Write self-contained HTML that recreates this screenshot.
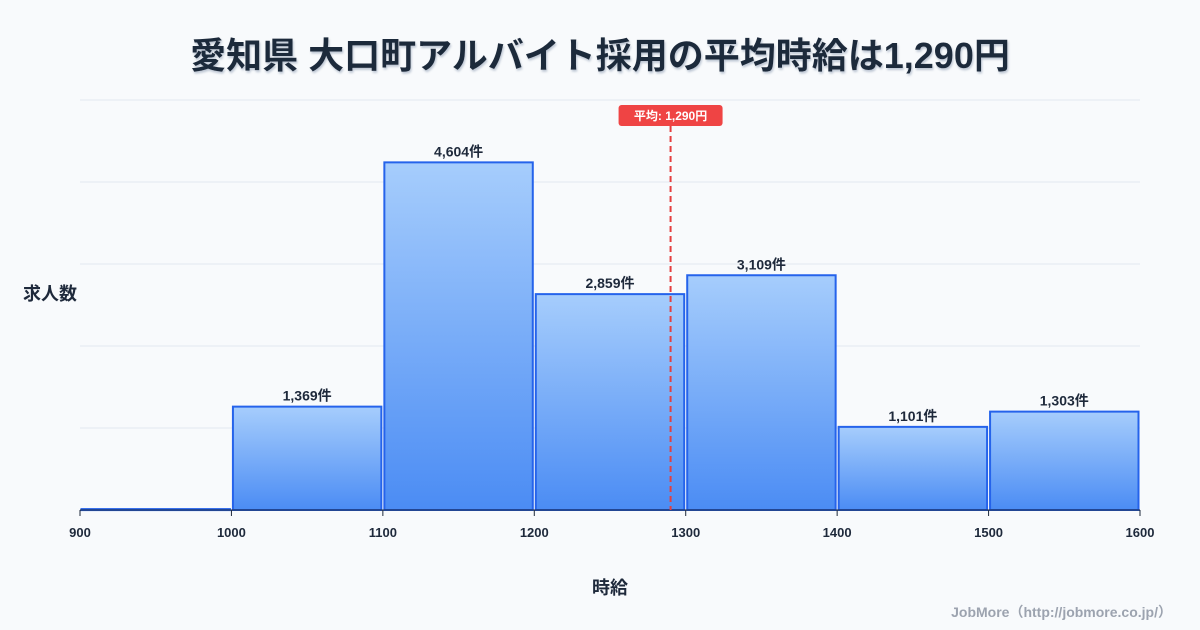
<!DOCTYPE html>
<html><head><meta charset="utf-8"><style>
body{margin:0;background:#f8fafc;}
svg{display:block;font-family:"Liberation Sans","Noto Sans CJK JP",sans-serif;}
</style></head><body>
<svg id="c" width="1200" height="630" viewBox="0 0 1200 630">
<defs><linearGradient id="g" x1="0" y1="0" x2="0" y2="1"><stop offset="0" stop-color="#a6cdfc"/><stop offset="1" stop-color="#4b8cf4"/></linearGradient>
<filter id="sh"><feDropShadow dx="1" dy="2" stdDeviation="1" flood-color="#94a3b8" flood-opacity="0.6"/></filter></defs>
<text x="600" y="68" text-anchor="middle" font-size="36" font-weight="bold" fill="#1e293b" filter="url(#sh)">愛知県 大口町アルバイト採用の平均時給は1,290円</text>
<g id="grid"></g><g id="bars"></g><g id="xt"></g>
<text x="50" y="300" text-anchor="middle" font-size="18" font-weight="bold" fill="#1e293b">求人数</text>
<text x="610" y="594" text-anchor="middle" font-size="18" font-weight="bold" fill="#1e293b">時給</text>
<text x="1172" y="617" text-anchor="end" font-size="14" font-weight="bold" fill="#9ca3af">JobMore（http://jobmore.co.jp/）</text>
<g id="avg"></g>
</svg>
<script>
const binStarts=[900,1000,1100,1200,1300,1400,1500];
const counts=[12,1369,4604,2859,3109,1101,1303];
const countLabels=["","1,369件","4,604件","2,859件","3,109件","1,101件","1,303件"];
const xTicks=[900,1000,1100,1200,1300,1400,1500,1600];
const avgValue=1290;
const avgLabel="平均: 1,290円";
const NS="http://www.w3.org/2000/svg";
const X0=80,X1=1140,Y0=510,Y1=100,xMin=900,xMax=1600,yMax=5430;
const x=v=>X0+(v-xMin)/(xMax-xMin)*(X1-X0);
const y=v=>Y0-v/yMax*(Y0-Y1);
function mk(t,a,p){const e=document.createElementNS(NS,t);for(const k in a)e.setAttribute(k,a[k]);p.appendChild(e);return e;}
const grid=document.getElementById('grid');
for(let i=0;i<=5;i++){const gy=Y0-i*(Y0-Y1)/5;const l=mk('line',{x1:X0,x2:X1,y1:gy,y2:gy,stroke:'#e2e8f0','stroke-width':1},grid);

}
const bars=document.getElementById('bars');
binStarts.forEach((b,i)=>{const xa=x(b)+1.5,xb=x(b+100)-1.5,yt=y(counts[i]);
const r=mk('rect',{x:xa,y:yt,width:xb-xa,height:Math.max(Y0-yt,1),fill:'url(#g)',stroke:'#2563eb','stroke-width':2},bars);


if(countLabels[i]){const t=mk('text',{x:(xa+xb)/2,y:yt-6,'text-anchor':'middle','font-size':14,'font-weight':'bold',fill:'#1e293b'},bars);t.textContent=countLabels[i];

}
});
const xt=document.getElementById('xt');
const ax=mk('line',{x1:X0,x2:X1,y1:Y0,y2:Y0,stroke:'#1e293b','stroke-width':1},xt);


xTicks.forEach(v=>{const tk=mk('line',{x1:x(v),x2:x(v),y1:Y0,y2:Y0+6,stroke:'#1e293b'},xt);


const t=mk('text',{x:x(v),y:537,'text-anchor':'middle','font-size':13,'font-weight':'bold',fill:'#1e293b'},xt);t.textContent=v;

});
const avg=document.getElementById('avg');const ax2=x(avgValue);
const al=mk('line',{x1:ax2,x2:ax2,y1:126,y2:Y0,stroke:'#e53e3e','stroke-width':2,'stroke-dasharray':'6,4'},avg);


const ar=mk('rect',{x:ax2-52,y:105,width:104,height:21,rx:3,fill:'#ef4444'},avg);


const at=mk('text',{x:ax2,y:120,'text-anchor':'middle','font-size':12,'font-weight':'bold',fill:'#fff'},avg);at.textContent=avgLabel;


</script>
</body></html>
